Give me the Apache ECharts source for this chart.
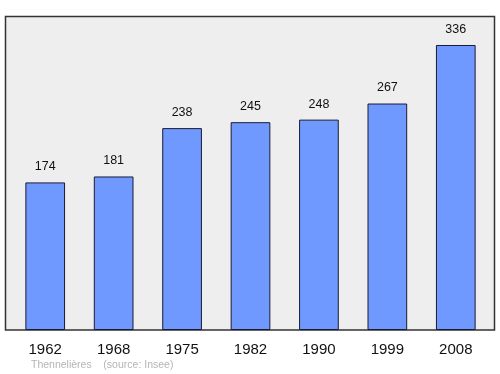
<!DOCTYPE html>
<html><head><meta charset="utf-8">
<script src="https://cdn.jsdelivr.net/npm/echarts@6/dist/echarts.min.js"></script>
<style>html,body{margin:0;padding:0;background:#fff}#c{width:500px;height:374px}</style>
</head><body><div id="c"></div>
<script>
const years = ['1962','1968','1975','1982','1990','1999','2008'];
const population = [174,181,238,245,248,267,336];
const sourceText = 'Thennelières    (source: Insee)';

const chart = echarts.init(document.getElementById('c'), null, {renderer:'canvas'});
chart.setOption({
  animation:false,
  backgroundColor:'#ffffff',
  graphic:[
    {type:'rect', z:-10, shape:{x:5.5,y:16.5,width:489,height:313.5}, style:{fill:'#eeeeee', stroke:'#333333', lineWidth:1.5}},
    {type:'text', left:31, top:360, style:{text:sourceText, fill:'#b4b4b4', font:'10.5px "Liberation Sans", Arial, sans-serif'}}
  ],
  grid:{left:11, right:10, top:17, bottom:44, show:false},
  xAxis:{type:'category', data:years, boundaryGap:true,
    axisLine:{show:false}, axisTick:{show:false},
    axisLabel:{color:'#111', fontSize:15, margin:12, fontFamily:'"Liberation Sans", Arial, sans-serif'}},
  yAxis:{type:'value', min:0, max:369, show:false, splitLine:{show:false}},
  series:[{type:'bar', data:population, barWidth:'58%',
    itemStyle:{color:'#7099ff', borderColor:'#1a1a33', borderWidth:1},
    label:{show:true, position:'top', distance:9, color:'#111', fontSize:12.5, fontFamily:'"Liberation Sans", Arial, sans-serif'}}]
});
</script></body></html>
